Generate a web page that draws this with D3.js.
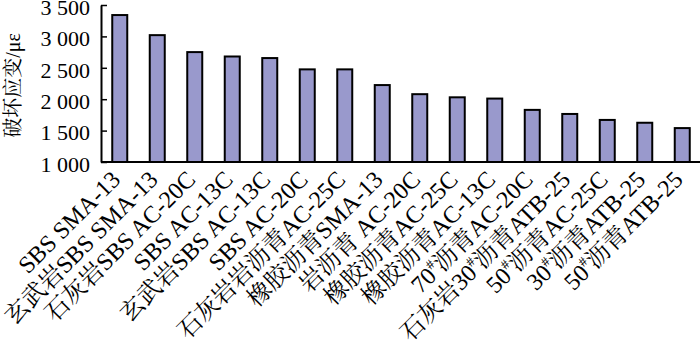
<!DOCTYPE html>
<html>
<head>
<meta charset="utf-8">
<script src="https://cdn.jsdelivr.net/npm/d3@7"></script>
<style>
  html, body { margin: 0; padding: 0; background: #fff; }
  svg { display: block; }
</style>
</head>
<body>
<svg id="chart" width="700" height="342"></svg>
<script>
const categories = [
  "SBS SMA-13",
  "玄武岩SBS SMA-13",
  "石灰岩SBS AC-20C",
  "SBS AC-13C",
  "玄武岩SBS AC-13C",
  "SBS AC-20C",
  "石灰岩岩沥青AC-25C",
  "橡胶沥青SMA-13",
  "岩沥青 AC-20C",
  "橡胶沥青AC-25C",
  "橡胶沥青AC-13C",
  "70#沥青AC-20C",
  "石灰岩30#沥青ATB-25",
  "50#沥青AC-25C",
  "30#沥青ATB-25",
  "50#沥青ATB-25"
];
const values = [3340, 3020, 2750, 2680, 2655, 2475, 2475, 2225, 2080, 2030, 2010, 1830, 1765, 1670, 1625, 1540];
const yTicks = [1000, 1500, 2000, 2500, 3000, 3500];
const yTickLabels = ["1 000", "1 500", "2 000", "2 500", "3 000", "3 500"];
const yTitle = "破坏应变/με";

(function () {
const svg = d3.select("#chart");
const mLeft = 101, mRight = 701, mTop = 5, mBottom = 162;

const x = d3.scaleBand().domain(categories).range([mLeft, mRight]).paddingInner(0.6).paddingOuter(0.3);
const y = d3.scaleLinear().domain([1000, 3500]).range([mBottom, mTop]);

const serif = "'Liberation Serif','Times New Roman','Noto Serif CJK SC','Noto Sans CJK SC',serif";

// bars
svg.append("g").selectAll("rect").data(values).join("rect")
  .attr("x", (d, i) => x(categories[i]))
  .attr("y", d => y(d))
  .attr("width", x.bandwidth())
  .attr("height", d => y(1000) - y(d))
  .attr("fill", "#9999cc")
  .attr("stroke", "#000")
  .attr("stroke-width", 2);

// y axis
const yAxis = d3.axisLeft(y).tickValues(yTicks)
  .tickFormat((d, i) => yTickLabels[i])
  .tickSizeInner(-6).tickSizeOuter(0).tickPadding(11);
const gy = svg.append("g").attr("transform", `translate(${mLeft},0)`).call(yAxis);
gy.select(".domain").attr("stroke", "#000").attr("stroke-width", 2);
gy.selectAll(".tick line").attr("stroke", "#000").attr("stroke-width", 1.5);
gy.selectAll(".tick text").attr("font-family", serif).attr("font-size", 22).attr("fill", "#000")
  .attr("dy", "0.42em");

// x axis
const xAxis = d3.axisBottom(x).tickSize(0).tickSizeOuter(0).tickFormat("");
const gx = svg.append("g").attr("transform", `translate(0,${mBottom})`).call(xAxis);
gx.select(".domain").attr("stroke", "#000").attr("stroke-width", 2)
  .attr("d", `M${mLeft},0H700`);

// x labels rotated
svg.append("g").selectAll("text").data(categories).join("text")
  .attr("transform", d => `translate(${x(d) + x.bandwidth() / 2 + 2},181) rotate(-45)`)
  .attr("text-anchor", "end")
  .attr("font-family", serif)
  .attr("font-size", 24)
  .attr("fill", "#000")
  .each(function (d) {
    const t = d3.select(this);
    if (d.includes("#")) {
      const parts = d.split("#");
      t.append("tspan").text(parts[0]);
      t.append("tspan").attr("font-size", 14).attr("dy", -10).text("#");
      t.append("tspan").attr("dy", 10).text(parts[1]);
    } else {
      t.text(d);
    }
  });

// y title
svg.append("text")
  .attr("transform", `translate(20,${(mTop + mBottom) / 2 + 2}) rotate(-90)`)
  .attr("text-anchor", "middle")
  .attr("font-family", serif)
  .attr("font-size", 20)
  .attr("fill", "#000")
  .text(yTitle);
})();
</script>
</body>
</html>
